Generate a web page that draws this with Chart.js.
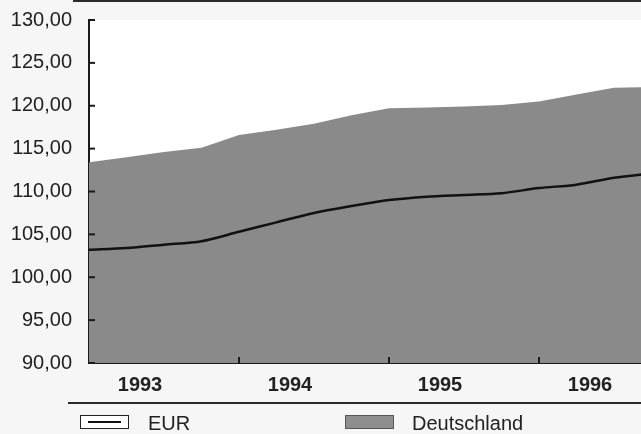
<!DOCTYPE html>
<html>
<head>
<meta charset="utf-8">
<script src="https://cdn.jsdelivr.net/npm/chart.js@4"></script>
<style>
    body { margin: 0; background: #f6f6f6; font-family: "Liberation Sans", Arial, sans-serif; }
    #wrap { position: relative; width: 641px; height: 434px; overflow: hidden; }
    #chart { position: absolute; left: 0; top: 0; }
    .rule { position: absolute; background: #2a2a2a; height: 2px; }
    .box { position: absolute; width: 47px; height: 12px; }
    .txt { position: absolute; font-size: 20px; color: #222; line-height: 20px; }
</style>
</head>
<body>
<div id="wrap">
    <canvas id="chart" width="641" height="434"></canvas>
    <div class="rule" style="left:73px; top:0px; width:568px;"></div>
    <div class="rule" style="left:68px; top:402px; width:573px;"></div>
    <div class="box" style="left:80px; top:415px; border:1.5px solid #222; background:#fff;">
        <div style="position:absolute; left:7px; right:7px; top:5px; height:2px; background:#111;"></div>
    </div>
    <div class="txt" style="left:148px; top:413px;">EUR</div>
    <div class="box" style="left:345px; top:415px; border:1.5px solid #555; background:#8e8e8e;"></div>
    <div class="txt" style="left:412px; top:413px;">Deutschland</div>
</div>
<script>
// quarterly points, x in years
var quarters = [1993, 1993.25, 1993.5, 1993.75, 1994, 1994.25, 1994.5, 1994.75,
                1995, 1995.25, 1995.5, 1995.75, 1996, 1996.25, 1996.5, 1996.75];
var eurValues = [103.2, 103.4, 103.8, 104.2, 105.3, 106.4, 107.5, 108.3,
                 109.0, 109.4, 109.6, 109.8, 110.4, 110.8, 111.6, 112.1];
var deValues = [113.4, 114.0, 114.6, 115.1, 116.6, 117.2, 117.9, 118.9,
                119.7, 119.8, 119.9, 120.1, 120.5, 121.3, 122.1, 122.2];
var yearLabels = [1993, 1994, 1995, 1996];
var yTicks = [90, 95, 100, 105, 110, 115, 120, 125, 130];

function toPoints(vals) {
    return quarters.map((q, i) => ({x: q, y: vals[i]}));
}

// white plot area + small inward tick marks
const plotDeco = {
    id: 'plotDeco',
    beforeDraw(chart) {
        const a = chart.chartArea;
        const ctx = chart.ctx;
        ctx.save();
        ctx.fillStyle = '#ffffff';
        ctx.fillRect(a.left, a.top, a.right - a.left, a.bottom - a.top);
        ctx.restore();
    },
    afterDraw(chart) {
        const ctx = chart.ctx;
        const xs = chart.scales.x;
        const ys = chart.scales.y;
        ctx.save();
        ctx.strokeStyle = '#1a1a1a';
        ctx.lineWidth = 2;
        yTicks.forEach(v => {
            const py = ys.getPixelForValue(v);
            ctx.beginPath();
            ctx.moveTo(xs.left, py);
            ctx.lineTo(xs.left + 6, py);
            ctx.stroke();
        });
        yearLabels.slice(1).forEach(v => {
            const px = xs.getPixelForValue(v);
            ctx.beginPath();
            ctx.moveTo(px, ys.bottom);
            ctx.lineTo(px, ys.bottom - 6);
            ctx.stroke();
        });
        ctx.restore();
    }
};

const ctx = document.getElementById('chart').getContext('2d');
const myChart = new Chart(ctx, {
    type: 'line',
    data: {
        datasets: [{
            label: 'EUR',
            data: toPoints(eurValues),
            borderColor: '#111111',
            borderWidth: 2.5,
            pointRadius: 0,
            tension: 0.3,
            fill: false
        }, {
            label: 'Deutschland',
            data: toPoints(deValues),
            borderColor: '#8a8a8a',
            backgroundColor: '#8a8a8a',
            borderWidth: 0,
            pointRadius: 0,
            tension: 0,
            fill: 'start'
        }]
    },
    options: {
        responsive: false,
        animation: false,
        layout: {
            padding: {left: 11, top: 20, right: 0, bottom: 38}
        },
        plugins: {
            legend: { display: false },
            tooltip: { enabled: false }
        },
        scales: {
            x: {
                type: 'linear',
                min: 1993,
                max: 1996.68,
                afterBuildTicks: (scale) => {
                    // year labels sit left of the interval centre in the original
                    scale.ticks = yearLabels.map(y => ({value: y + 0.34}));
                },
                afterFit: (scale) => {
                    scale.height = 33;
                    scale.paddingLeft = 0;
                    scale.paddingRight = 0;
                },
                ticks: {
                    color: '#222',
                    font: { family: 'Liberation Sans', size: 20, weight: 'bold' },
                    padding: 10,
                    maxRotation: 0,
                    autoSkip: false,
                    callback: (v) => String(Math.floor(v))
                },
                grid: { display: false, drawTicks: false },
                border: { display: true, color: '#1a1a1a', width: 2 }
            },
            y: {
                min: 90,
                max: 130,
                afterFit: (scale) => {
                    scale.width = 78;
                    scale.paddingTop = 0;
                    scale.paddingBottom = 0;
                },
                ticks: {
                    stepSize: 5,
                    color: '#222',
                    font: { family: 'Liberation Sans', size: 20 },
                    padding: 17,
                    callback: (v) => v.toFixed(2).replace('.', ',')
                },
                grid: { display: false, drawTicks: false },
                border: { display: true, color: '#1a1a1a', width: 2 }
            }
        }
    },
    plugins: [plotDeco]
});
</script>
</body>
</html>
